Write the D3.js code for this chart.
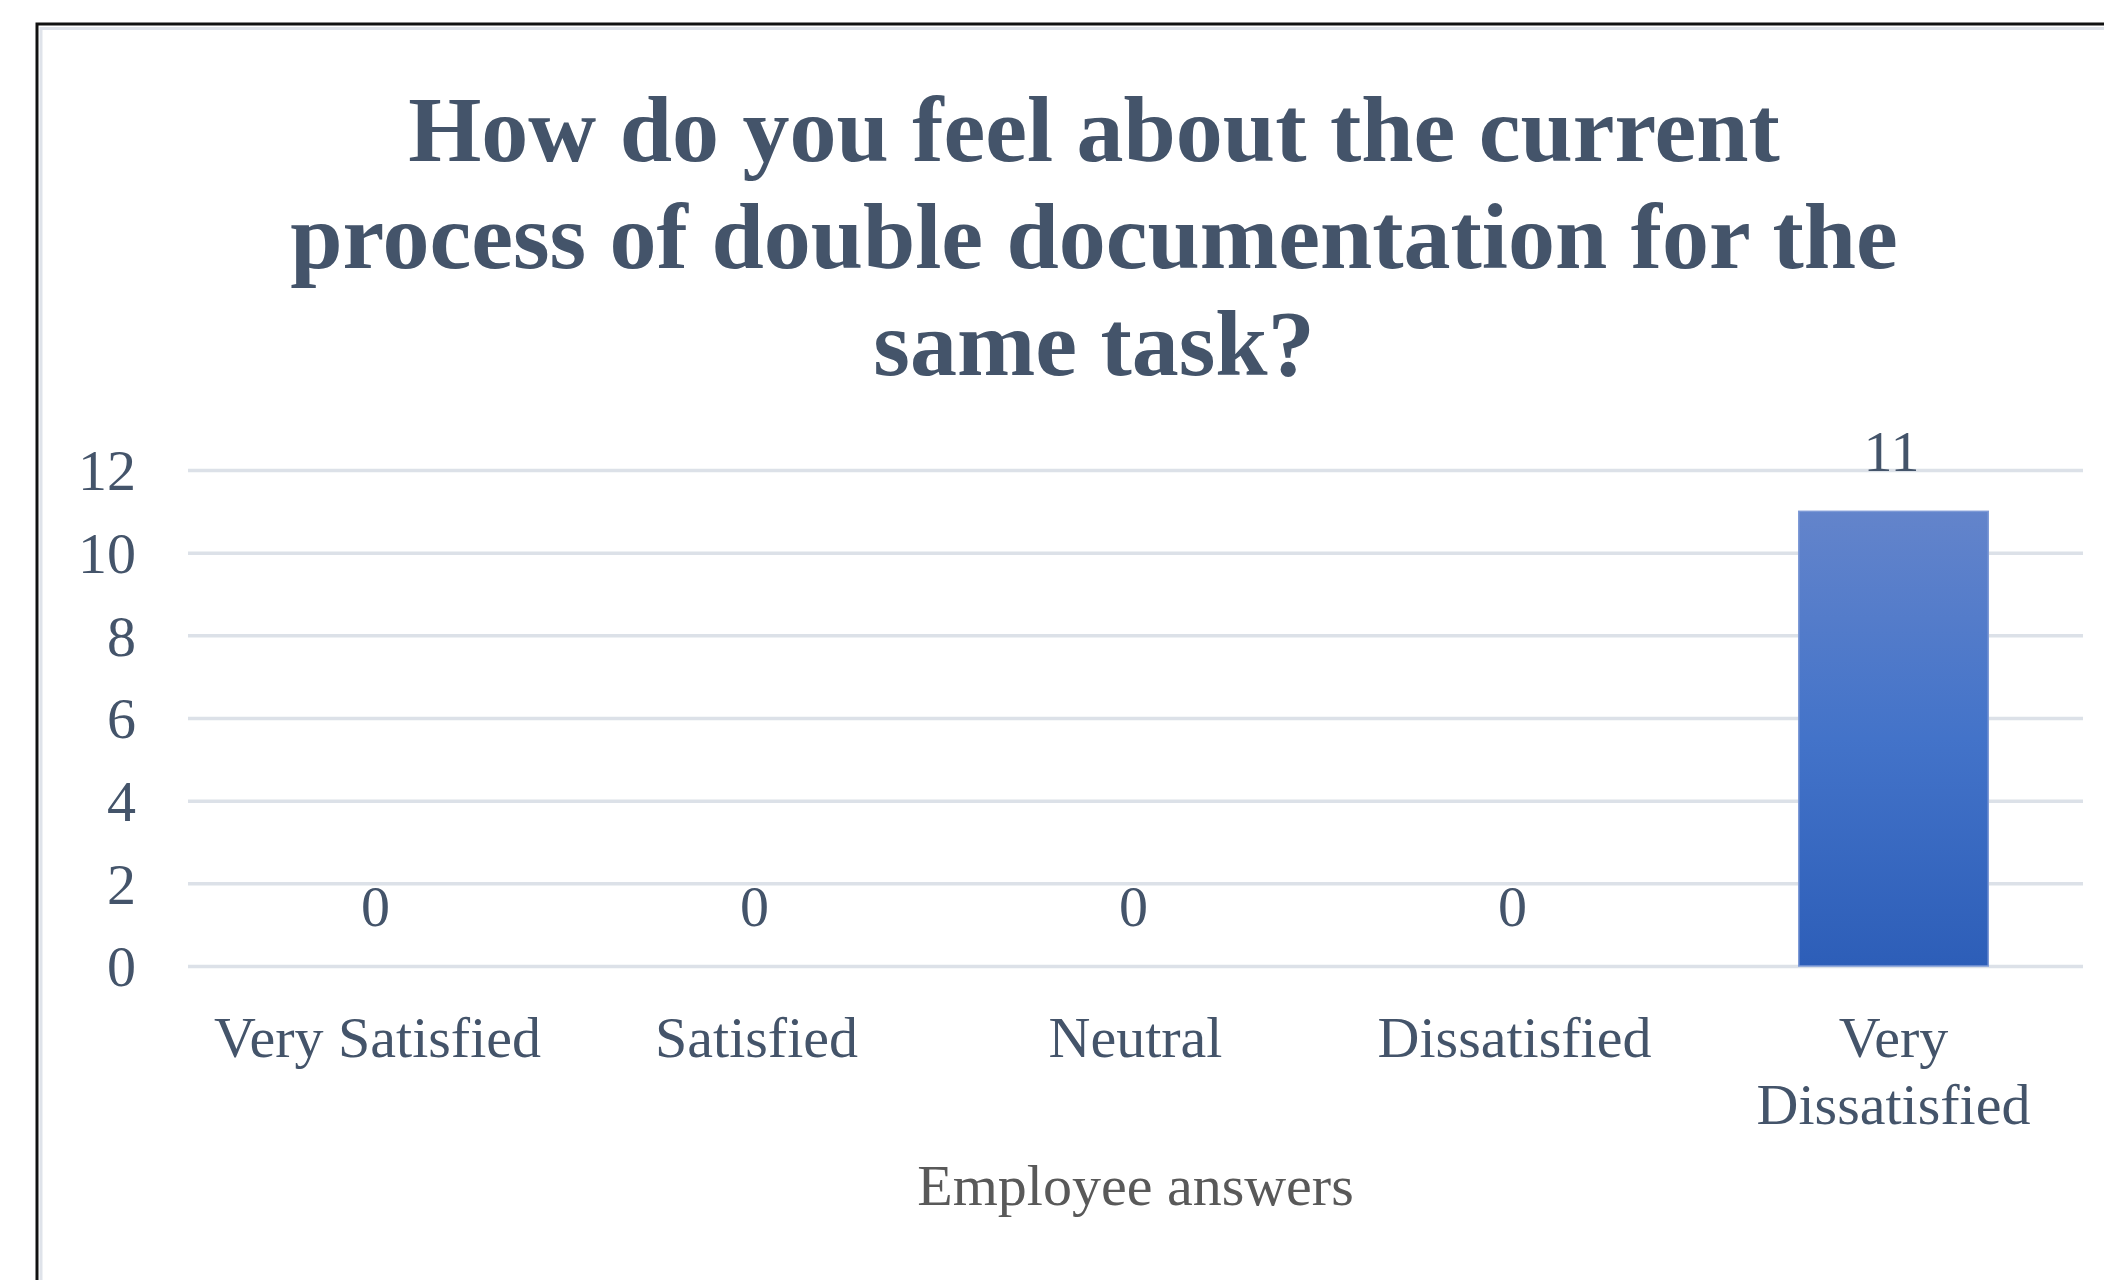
<!DOCTYPE html>
<head>
  <meta charset="utf-8">
  <title>Double documentation survey</title>
  <style>
    body { margin: 0; background: #fff; }
    svg { display: block; }
    text { font-family: "Liberation Serif", "Times New Roman", serif; }
  </style>
</head>
<body>
  <div id="chart"></div>
  <script src="https://cdn.jsdelivr.net/npm/d3@7"></script>
  <script type="text/javascript">

    // data
    var categories = [["Very Satisfied"], ["Satisfied"], ["Neutral"], ["Dissatisfied"], ["Very", "Dissatisfied"]];
    var counts = [0, 0, 0, 0, 11];
    var yTicks = [0, 2, 4, 6, 8, 10, 12];
    var titleLines = ["How do you feel about the current", "process of double documentation for the", "same task?"];
    var xTitle = "Employee answers";

    var W = 2104, H = 1280;
    var plot = {left: 188, right: 2083, top: 470, bottom: 966};

    var svg = d3.select("#chart").append("svg")
        .attr("width", W)
        .attr("height", H);

    // frame (black outer, light inner) running off the right and bottom
    svg.append("rect").attr("x", 37).attr("y", 24).attr("width", W).attr("height", H)
        .attr("fill", "#fff").attr("stroke", "#111").attr("stroke-width", 3);
    svg.append("rect").attr("x", 41).attr("y", 28.5).attr("width", W).attr("height", H)
        .attr("fill", "none").attr("stroke", "#dfe3ea").attr("stroke-width", 3);

    var x = d3.scaleBand()
        .domain(d3.range(categories.length))
        .range([plot.left, plot.right])
        .paddingInner(0.5)
        .paddingOuter(0.25);

    var y = d3.scaleLinear()
        .domain([0, 12])
        .range([plot.bottom, plot.top]);

    // gridlines + y labels
    var yAxis = d3.axisLeft(y)
        .tickValues(yTicks)
        .tickSize(-(plot.right - plot.left))
        .tickPadding(52);
    var gy = svg.append("g")
        .attr("transform", "translate(" + plot.left + ",0)")
        .call(yAxis);
    gy.select(".domain").remove();
    gy.selectAll(".tick line").attr("stroke", "#dce1e8").attr("stroke-width", 3.5);
    gy.selectAll(".tick text")
        .attr("fill", "#44546a")
        .style("font-size", "58px")
        .attr("dy", "0.34em");

    // gradient for bar
    var grad = svg.append("defs").append("linearGradient")
        .attr("id", "barGrad").attr("x1", 0).attr("y1", 0).attr("x2", 0).attr("y2", 1);
    grad.append("stop").attr("offset", "0%").attr("stop-color", "#6384cb");
    grad.append("stop").attr("offset", "50%").attr("stop-color", "#4373c9");
    grad.append("stop").attr("offset", "100%").attr("stop-color", "#2d5eb8");

    svg.selectAll(".bar")
        .data(counts)
        .enter().append("rect")
        .attr("class", "bar")
        .attr("x", function (d, i) { return x(i); })
        .attr("y", function (d) { return y(d); })
        .attr("width", x.bandwidth())
        .attr("height", function (d) { return y(0) - y(d); })
        .attr("fill", "url(#barGrad)")
        .attr("stroke", "#7e9ad6")
        .attr("stroke-width", function (d) { return d > 0 ? 1.5 : 0; });

    // data labels
    svg.selectAll(".lbl")
        .data(counts)
        .enter().append("text")
        .attr("class", "lbl")
        .attr("x", function (d, i) { return x(i) + x.bandwidth() / 2 - 2; })
        .attr("y", function (d) { return y(d) - 40; })
        .attr("text-anchor", "middle")
        .attr("fill", "#44546a")
        .style("font-size", "58px")
        .text(function (d) { return d; });

    // category labels
    var cat = svg.selectAll(".cat")
        .data(categories)
        .enter().append("text")
        .attr("class", "cat")
        .attr("text-anchor", "middle")
        .attr("fill", "#44546a")
        .style("font-size", "58px")
        .attr("transform", function (d, i) { return "translate(" + (x(i) + x.bandwidth() / 2) + "," + (plot.bottom + 91) + ")"; });
    cat.selectAll("tspan")
        .data(function (d) { return d; })
        .enter().append("tspan")
        .attr("x", 0)
        .attr("dy", function (d, j) { return j === 0 ? 0 : 67; })
        .text(function (d) { return d; });

    // axis title
    svg.append("text")
        .attr("x", (plot.left + plot.right) / 2)
        .attr("y", 1205)
        .attr("text-anchor", "middle")
        .attr("fill", "#595959")
        .style("font-size", "58px")
        .text(xTitle);

    // chart title
    svg.append("text")
        .attr("text-anchor", "middle")
        .attr("fill", "#44546a")
        .style("font-size", "94px")
        .style("font-weight", "bold")
        .selectAll("tspan")
        .data(titleLines)
        .enter().append("tspan")
        .attr("x", 1094)
        .attr("y", function (d, i) { return 161 + i * 107; })
        .text(function (d) { return d; });

  </script>
</body>
